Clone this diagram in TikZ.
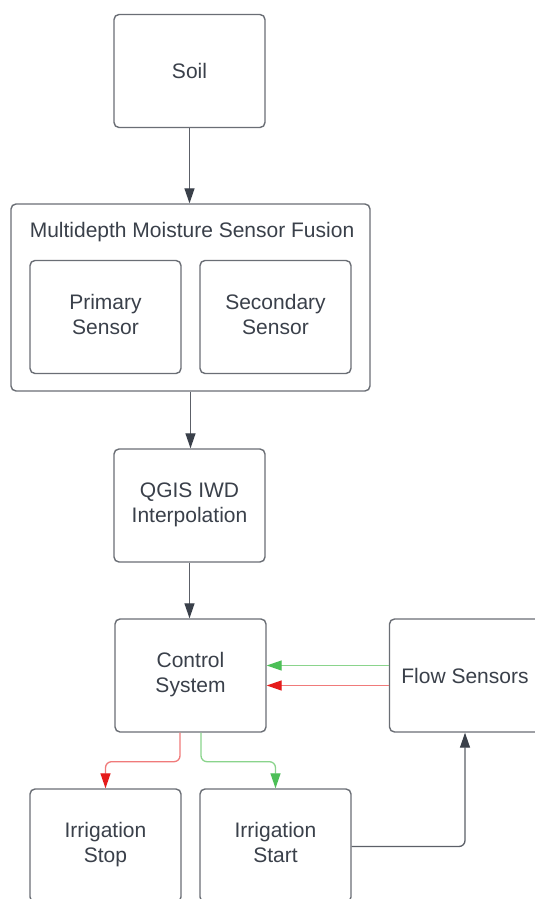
\documentclass[tikz,border=0pt]{standalone}
\usepackage{fontspec}
\setmainfont{Liberation Sans}
\usepackage{xcolor}
\usepackage{tikz}
\usetikzlibrary{arrows.meta, calc}

\definecolor{boxline}{HTML}{6A6E75}
\definecolor{boxtext}{HTML}{3A404A}
\definecolor{linkgray}{HTML}{5C6068}
\definecolor{tipgray}{HTML}{3A404A}
\definecolor{okline}{HTML}{8AD48C}
\definecolor{oktip}{HTML}{4CBF57}
\definecolor{stopline}{HTML}{F07A7A}
\definecolor{stoptip}{HTML}{E51B1B}

\tikzset{
  block/.style={draw=boxline, line width=0.7pt, rounded corners=2.5pt, fill=white,
    minimum width=75.5pt, minimum height=56.5pt, align=center, text=boxtext,
    font=\fontsize{10.5pt}{12.5pt}\selectfont},
  twoline/.style={text depth=3pt},
  link/.style={draw=linkgray, line width=0.65pt, rounded corners=3pt,
    -{Triangle[width=5pt, length=7.5pt, color=tipgray]}},
  golink/.style={draw=okline, line width=0.65pt, rounded corners=3pt,
    -{Triangle[width=5pt, length=7.5pt, color=oktip]}},
  stoplink/.style={draw=stopline, line width=0.65pt, rounded corners=3pt,
    -{Triangle[width=5pt, length=7.5pt, color=stoptip]}}
}

\begin{document}
\begin{tikzpicture}[x=0.5pt, y=-0.5pt]
\clip (0,0) rectangle (535,899);
\fill[white] (0,0) rectangle (535,899);

% blocks
\node[block] (soil) at (189.5,71) {Soil};
\node[block, minimum width=179.5pt, minimum height=93.5pt] (fusion) at (190.5,297.5) {};
\node[text=boxtext, font=\fontsize{10.5pt}{12.5pt}\selectfont] (fusiontitle) at (192,232.5) {Multidepth Moisture Sensor Fusion};
\node[block, twoline] (primary) at (105.5,317) {Primary\\Sensor};
\node[block, twoline] (secondary) at (275.5,317) {Secondary\\Sensor};
\node[block, twoline] (qgis) at (189.5,505.5) {QGIS IWD\\Interpolation};
\node[block, twoline] (ctrl) at (190.5,675.5) {Control\\System};
\node[block] (flow) at (465,675.5) {Flow Sensors};
\node[block, twoline] (stop) at (105.5,845.5) {Irrigation\\Stop};
\node[block, twoline] (start) at (275.5,845.5) {Irrigation\\Start};

% main chain
\draw[link] (soil.south) -- (soil.south |- fusion.north);
\draw[link] (fusion.south) -- (fusion.south |- qgis.north);
\draw[link] (qgis.south) -- (qgis.south |- ctrl.north);

% feedback from the flow sensors
\draw[golink] ([yshift=5pt]flow.west) -- ([yshift=5pt]ctrl.east);
\draw[stoplink] ([yshift=-5pt]flow.west) -- ([yshift=-5pt]ctrl.east);

% control outputs
\draw[stoplink] ([xshift=-5.25pt]ctrl.south) -- ++(0,29) -| (stop.north);
\draw[golink] ([xshift=5.25pt]ctrl.south) -- ++(0,29) -| (start.north);
\draw[link] ([yshift=-0.5pt]start.east) -| (flow.south);
\end{tikzpicture}
\end{document}
